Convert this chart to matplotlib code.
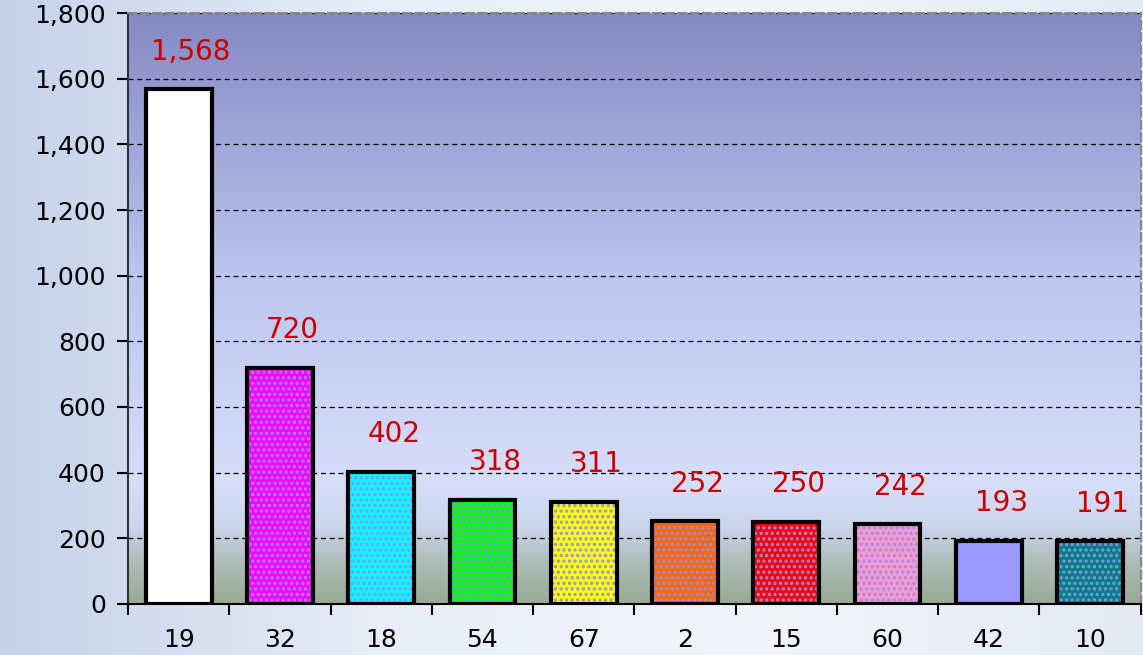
import matplotlib
matplotlib.use('Agg')
import matplotlib.pyplot as plt
import numpy as np
from matplotlib.colors import LinearSegmentedColormap

categories = ['19', '32', '18', '54', '67', '2', '15', '60', '42', '10']
values = [1568, 720, 402, 318, 311, 252, 250, 242, 193, 191]
labels = ['1,568', '720', '402', '318', '311', '252', '250', '242', '193', '191']
colors = ['#ffffff', '#ff00ff', '#00ffff', '#00ff00', '#ffff00',
          '#ff6600', '#ff0000', '#ff99cc', '#9999ff', '#008080']
dotted = [False, True, True, True, True, True, True, True, False, True]
yticks = [0, 200, 400, 600, 800, 1000, 1200, 1400, 1600, 1800]

plt.rcParams['font.family'] = ['DejaVu Sans']
plt.rcParams['hatch.linewidth'] = 1.6

fig = plt.figure(figsize=(11.43, 6.55), dpi=100)

# light page background behind everything
bg = fig.add_axes([0, 0, 1, 1], zorder=-10)
bg_cmap = LinearSegmentedColormap.from_list('page', ['#c5d2ea', '#e8edf7', '#f2f4fa', '#e4e9f4'])
bg.imshow(np.linspace(0, 1, 256)[None, :], aspect='auto', cmap=bg_cmap, extent=[0, 1, 0, 1])
bg.axis('off')

ax = fig.add_axes([0.112, 0.078, 0.886, 0.902])
x = np.arange(len(categories))

# plot area gradient, bottom greenish grey to top blue-violet
area_cmap = LinearSegmentedColormap.from_list(
    'area', [(0.0, '#98aa94'), (0.07, '#aebcb8'), (0.13, '#cbd5ec'),
             (0.2, '#d6defa'), (0.55, '#bcc6ee'), (1.0, '#8589c4')])
ax.imshow(np.linspace(0, 1, 256)[:, None], aspect='auto', cmap=area_cmap,
          origin='lower', extent=[-0.5, 9.5, 0, 1800], zorder=0)

ax.grid(axis='y', color='black', linestyle=(0, (4, 3)), linewidth=0.9, zorder=1)

for i in range(len(categories)):
    ax.bar(x[i], values[i], width=0.65, color=colors[i], linewidth=0, zorder=2)
    if dotted[i]:
        ax.bar(x[i], values[i], width=0.65, color='none', edgecolor='#9090f0',
               hatch='...', linewidth=0, zorder=3)
    ax.bar(x[i], values[i], width=0.65, color='none', edgecolor='black',
           linewidth=3, zorder=4)
    ax.annotate(labels[i], (x[i], values[i]), xytext=(9, 17), textcoords='offset points',
                ha='center', va='bottom', color='#cc0000', fontsize=20, zorder=5)

ax.set_xlim(-0.5, 9.5)
ax.set_ylim(0, 1800)
ax.set_yticks(yticks)
ax.set_yticklabels([f'{v:,}' for v in yticks], fontsize=18)
ax.set_xticks(np.arange(-0.5, 10, 1))
ax.set_xticklabels([])
ax.set_xticks(x, minor=True)
ax.set_xticklabels(categories, minor=True, fontsize=18)
ax.tick_params(axis='x', which='major', length=8, width=1.5, direction='out')
ax.tick_params(axis='x', which='minor', length=0, pad=17)
ax.tick_params(axis='y', length=8, width=1.5, direction='out', pad=8)

for s in ['top', 'right']:
    ax.spines[s].set_color('#888888')
    ax.spines[s].set_linestyle((0, (4, 2)))
    ax.spines[s].set_linewidth(1.5)
ax.spines['left'].set_color('#333333')
ax.spines['left'].set_linewidth(1.5)
ax.spines['bottom'].set_linewidth(1.5)

fig.savefig('out.png', dpi=100)
